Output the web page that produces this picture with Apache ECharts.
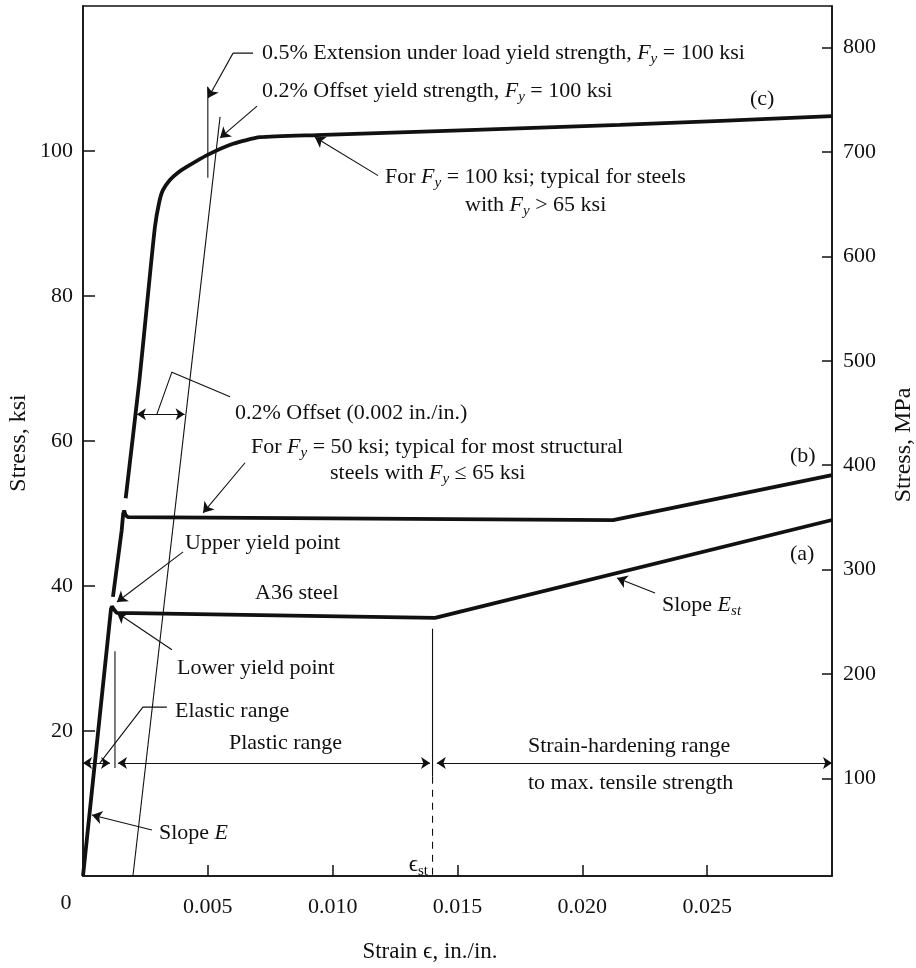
<!DOCTYPE html>
<html>
<head>
<meta charset="utf-8">
<script src="https://cdn.jsdelivr.net/npm/echarts@6/dist/echarts.min.js"></script>
<style>html,body{margin:0;padding:0;background:#fff}#c{width:916px;height:968px}</style>
</head>
<body>
<div id="c"></div>
<script>
// ---------- data (strain in./in., stress ksi) ----------
const xTicks = [0.005, 0.010, 0.015, 0.020, 0.025];
const ksiTicks = [20, 40, 60, 80, 100];
const mpaTicks = [100, 200, 300, 400, 500, 600, 700, 800];

// (a) A36 steel
const curveA = [[0, 0], [0.00112, 36.8], [0.00116, 37.2], [0.00121, 36.9], [0.00135, 36.3], [0.0141, 35.6], [0.030, 49.1]];
// (b) Fy = 50 ksi
const curveB = [[0.0012, 38.5], [0.00155, 47.7], [0.00161, 50.0], [0.00165, 50.4], [0.0017, 49.8], [0.0018, 49.5], [0.02123, 49.1], [0.030, 55.3]];
// (c) Fy = 100 ksi
const curveC = [[0.00171, 52.1], [0.00226, 68.4], [0.00258, 79.4], [0.00288, 89.5], [0.00305, 92.9], [0.0032, 94.6], [0.00348, 96.0],
  [0.0038, 97.0], [0.00415, 97.8], [0.00495, 99.4], [0.00601, 101.0], [0.00709, 101.9], [0.00936, 102.2], [0.0215, 103.6], [0.030, 104.8]];

// construction lines
const offsetLine02 = [[0.002, 0], [0.00549, 104.7]];
const ext05Line = [[0.005, 96.3], [0.005, 108.8]];
const elasticLimitLine = [[0.00128, 14.9], [0.00128, 31.0]];
const epsStSolid = [[0.014, 34.1], [0.014, 13.7]];
const epsStDashed = [[0.014, 13.7], [0.014, 0]];

// dimension arrows (both ends)
const dimArrows = [
  [[0, 15.6], [0.00108, 15.6]],
  [[0.0014, 15.6], [0.0139, 15.6]],
  [[0.01417, 15.6], [0.030, 15.6]],
  [[0.00216, 63.7], [0.00407, 63.7]]
];
// leader segments ending with an arrow
const leadersArrow = [
  [[0.00601, 113.5], [0.00501, 107.3]],
  [[0.00697, 106.2], [0.00549, 101.8]],
  [[0.01182, 96.6], [0.00929, 101.9]],
  [[0.00649, 57.0], [0.00481, 50.1]],
  [[0.00401, 44.7], [0.00136, 37.8]],
  [[0.00356, 31.2], [0.00136, 36.3]],
  [[0.00276, 6.34], [0.00036, 8.41]],
  [[0.02291, 39.03], [0.02139, 41.1]]
];
// plain leaders
const leadersPlain = [
  [[0.00681, 113.5], [0.00601, 113.5]],
  [[0.00589, 66.1], [0.00356, 69.5], [0.00296, 63.7]],
  [[0.00336, 23.3], [0.0024, 23.3], [0.00068, 15.6]]
];

// annotation texts
const notes = [
  {x: 262, y: 53, t: '0.5% Extension under load yield strength, {it|F}{sub|y} = 100 ksi'},
  {x: 262, y: 91, t: '0.2% Offset yield strength, {it|F}{sub|y} = 100 ksi'},
  {x: 750, y: 99, t: '(c)'},
  {x: 385, y: 177, t: 'For {it|F}{sub|y} = 100 ksi; typical for steels'},
  {x: 465, y: 205, t: 'with {it|F}{sub|y} > 65 ksi'},
  {x: 235, y: 413, t: '0.2% Offset (0.002 in./in.)'},
  {x: 251, y: 447, t: 'For {it|F}{sub|y} = 50 ksi; typical for most structural'},
  {x: 330, y: 473, t: 'steels with {it|F}{sub|y} ≤ 65 ksi'},
  {x: 790, y: 456, t: '(b)'},
  {x: 185, y: 543, t: 'Upper yield point'},
  {x: 790, y: 554, t: '(a)'},
  {x: 255, y: 593, t: 'A36 steel'},
  {x: 662, y: 605, t: 'Slope {it|E}{sub|st}'},
  {x: 177, y: 668, t: 'Lower yield point'},
  {x: 175, y: 711, t: 'Elastic range'},
  {x: 229, y: 743, t: 'Plastic range'},
  {x: 528, y: 746, t: 'Strain-hardening range'},
  {x: 528, y: 783, t: 'to max. tensile strength'},
  {x: 159, y: 833, t: 'Slope {it|E}'}
];

// ---------- chart ----------
const FONT = '"Liberation Serif", "DejaVu Serif", serif';
const INK = '#111111';
const chart = echarts.init(document.getElementById('c'), null, {renderer: 'canvas'});

const rich = {
  it: {fontFamily: FONT, fontSize: 22, fontStyle: 'italic', lineHeight: 26, fill: INK, color: INK},
  sub: {fontFamily: FONT, fontSize: 15, fontStyle: 'italic', lineHeight: 14, padding: [12, 0, 0, 0], fill: INK, color: INK},
  up: {fontFamily: FONT, fontSize: 15, lineHeight: 14, padding: [12, 0, 0, 0], fill: INK, color: INK},
  eps: {fontFamily: FONT, fontSize: 23, lineHeight: 26, fill: INK, color: INK}
};

function txt(x, y, text, extra) {
  return Object.assign({
    type: 'text', x: x, y: y, silent: true, z: 100,
    style: Object.assign({
      text: text, fontFamily: FONT, fontSize: 22, lineHeight: 26, fill: INK,
      align: 'left', verticalAlign: 'middle', rich: rich
    }, extra && extra.style)
  }, extra && extra.el);
}

const graphics = notes.map(n => txt(n.x, n.y, n.t));
graphics.push(txt(66, 903, '0', {style: {align: 'center'}}));
graphics.push(txt(428, 865, '{eps|ϵ}{up|st}', {style: {align: 'right'}}));
graphics.push(txt(430, 952, 'Strain ϵ, in./in.', {style: {align: 'center', fontSize: 23}}));
graphics.push(txt(19, 443, 'Stress, ksi', {style: {align: 'center', fontSize: 24}, el: {rotation: Math.PI / 2}}));
graphics.push(txt(904, 445, 'Stress, MPa', {style: {align: 'center', fontSize: 24}, el: {rotation: Math.PI / 2}}));

const thick = {color: INK, width: 3.8};
const thin = {color: INK, width: 1.1};
function lineSeries(data, style, extra) {
  return Object.assign({type: 'line', data: data, showSymbol: false, symbol: 'none', lineStyle: style,
    xAxisIndex: 0, yAxisIndex: 0, silent: true, z: 3}, extra || {});
}
const axisFont = {fontFamily: FONT, fontSize: 22, color: INK};

function linesSeries(data, symbol, size, polyline) {
  return {
    type: 'lines', coordinateSystem: 'cartesian2d', xAxisIndex: 0, yAxisIndex: 0, polyline: polyline, silent: true,
    symbol: symbol, symbolSize: size, z: 5,
    lineStyle: {color: INK, width: 1.1, opacity: 1, curveness: 0},
    data: data.map(c => ({coords: c}))
  };
}

chart.setOption({
  animation: false,
  backgroundColor: '#ffffff',
  grid: {left: 83, right: 84, top: 6, bottom: 92, show: true, borderColor: INK, borderWidth: 1.5, backgroundColor: 'transparent'},
  xAxis: {
    type: 'value', min: 0, max: 0.03, interval: 0.005,
    axisLine: {show: true, onZero: false, lineStyle: {color: INK, width: 1.5}},
    axisTick: {show: true, inside: true, length: 11, customValues: xTicks, lineStyle: {color: INK, width: 1.5}},
    axisLabel: Object.assign({customValues: xTicks, margin: 20, formatter: v => v.toFixed(3)}, axisFont),
    splitLine: {show: false}
  },
  yAxis: [
    {
      type: 'value', min: 0, max: 120, interval: 20, position: 'left',
      axisLine: {show: true, onZero: false, lineStyle: {color: INK, width: 1.5}},
      axisTick: {show: true, inside: true, length: 12, customValues: ksiTicks, lineStyle: {color: INK, width: 1.5}},
      axisLabel: Object.assign({customValues: ksiTicks, margin: 10}, axisFont),
      splitLine: {show: false}
    },
    {
      type: 'value', min: 6.8, max: 839.6, position: 'right',
      axisLine: {show: true, onZero: false, lineStyle: {color: INK, width: 1.5}},
      axisTick: {show: true, inside: true, length: 10, customValues: mpaTicks, lineStyle: {color: INK, width: 1.5}},
      axisLabel: Object.assign({customValues: mpaTicks, margin: 11}, axisFont),
      splitLine: {show: false}
    }
  ],
  series: [
    lineSeries(curveA, thick, {z: 4}),
    lineSeries(curveB, thick, {z: 4}),
    lineSeries(curveC, thick, {z: 4, smooth: 0.2}),
    lineSeries(offsetLine02, thin),
    lineSeries(ext05Line, thin),
    lineSeries(elasticLimitLine, thin),
    lineSeries(epsStSolid, thin),
    lineSeries(epsStDashed, {color: INK, width: 1.1, type: [7, 6]}),
    linesSeries(leadersArrow, ['none', 'arrow'], 10, false),
    linesSeries(leadersPlain, ['none', 'none'], 0, true),
    linesSeries(dimArrows, ['arrow', 'arrow'], 9, false)
  ],
  graphic: graphics
});
</script>
</body>
</html>
